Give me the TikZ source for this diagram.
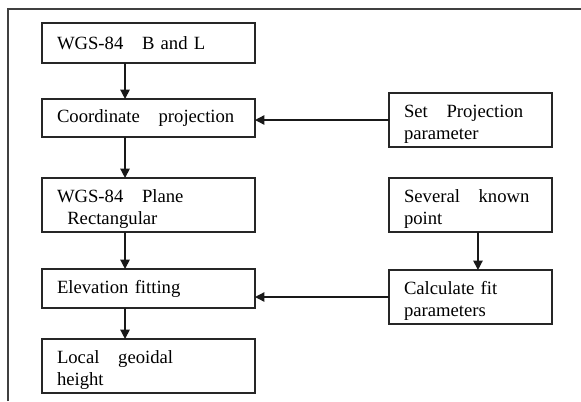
\documentclass[tikz,border=0pt]{standalone}
\usepackage{fontspec}
\setmainfont{Liberation Serif}
\usetikzlibrary{arrows.meta, positioning}

\begin{document}
\begin{tikzpicture}[
    node distance=27pt,
    box/.style={draw=black!85, line width=1pt, outer sep=0pt, minimum width=159.75pt, text width=137.25pt, inner xsep=11.25pt, align=left, font=\fontsize{14}{16.2}\selectfont, text=black},
    twoline/.style={minimum height=40.5pt, text depth=13pt},
    sidebox/.style={box, twoline, minimum width=122.25pt, text width=99.75pt},
    flow/.style={draw=black!90, line width=1pt, -{Triangle[length=7pt, width=7pt]}},
]
\useasboundingbox (0,0) rectangle (435.75pt,-300.75pt);

% Frame
\draw[black!75, line width=0.8pt] (6pt,-300.75pt) -- (6pt,-6.75pt) -- (435.75pt,-6.75pt);

% Main chain
\node[box, minimum height=30pt, anchor=north west] (bl) at (31.5pt,-17.25pt) {WGS-84\quad B and L};
\node[box, minimum height=28.5pt, below=27pt of bl] (proj) {Coordinate\quad projection};
\node[box, twoline, below=30.75pt of proj] (plane) {WGS-84\quad Plane\\\hspace*{0.55em}Rectangular};
\node[box, minimum height=29.25pt, below=27.75pt of plane] (fit) {Elevation fitting};
\node[box, twoline, below=23.25pt of fit] (geoid) {Local\quad geoidal\\height};

% Side inputs
\node[sidebox, right=100.5pt of plane] (known) {Several\quad known\\point};
\node[sidebox, above=23.25pt of known] (param) {Set\quad Projection\\parameter};
\node[sidebox, below=28.5pt of known] (calc) {Calculate fit\\parameters};

% Arrows
\draw[flow] ([xshift=-17.6pt]bl.south) -- ([xshift=-17.6pt]proj.north);
\draw[flow] ([xshift=-17.6pt]proj.south) -- ([xshift=-17.6pt]plane.north);
\draw[flow] ([xshift=-17.6pt]plane.south) -- ([xshift=-17.6pt]fit.north);
\draw[flow] ([xshift=-17.6pt]fit.south) -- ([xshift=-17.6pt]geoid.north);
\draw[flow] ([xshift=5.6pt]known.south) -- ([xshift=5.6pt]calc.north);
\draw[flow] (param.west) -- (param.west -| proj.east);
\draw[flow] (calc.west) -- (calc.west -| fit.east);

\end{tikzpicture}
\end{document}
